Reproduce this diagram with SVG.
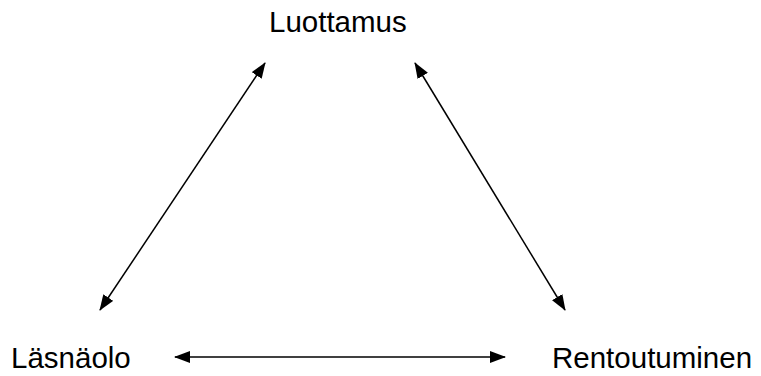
<svg xmlns="http://www.w3.org/2000/svg" width="761" height="376" viewBox="0 0 761 376">
<style>
text{font-family:"Liberation Sans",Arial,sans-serif;font-size:29.5px;fill:#000}
.c line{stroke:#000;stroke-width:1.5}
</style>
<defs>
<marker id="ah" viewBox="0 0 16 12" refX="15" refY="6" markerWidth="16" markerHeight="12" markerUnits="userSpaceOnUse" orient="auto-start-reverse">
<path d="M0,0 L16,6 L0,12 Z" fill="#000"/>
</marker>
</defs>
<rect width="761" height="376" fill="#fff"/>
<g id="luottamus"><text x="269" y="32">Luottamus</text></g>
<g id="lasnaolo"><text x="11" y="368">Läsnäolo</text></g>
<g id="rentoutuminen"><text x="552" y="368">Rentoutuminen</text></g>
<g class="c" id="connectors">
<line x1="100" y1="310" x2="265" y2="63" marker-start="url(#ah)" marker-end="url(#ah)"/>
<line x1="565" y1="310" x2="415" y2="63" marker-start="url(#ah)" marker-end="url(#ah)"/>
<line x1="175" y1="357" x2="505" y2="357" marker-start="url(#ah)" marker-end="url(#ah)"/>
</g>
</svg>
